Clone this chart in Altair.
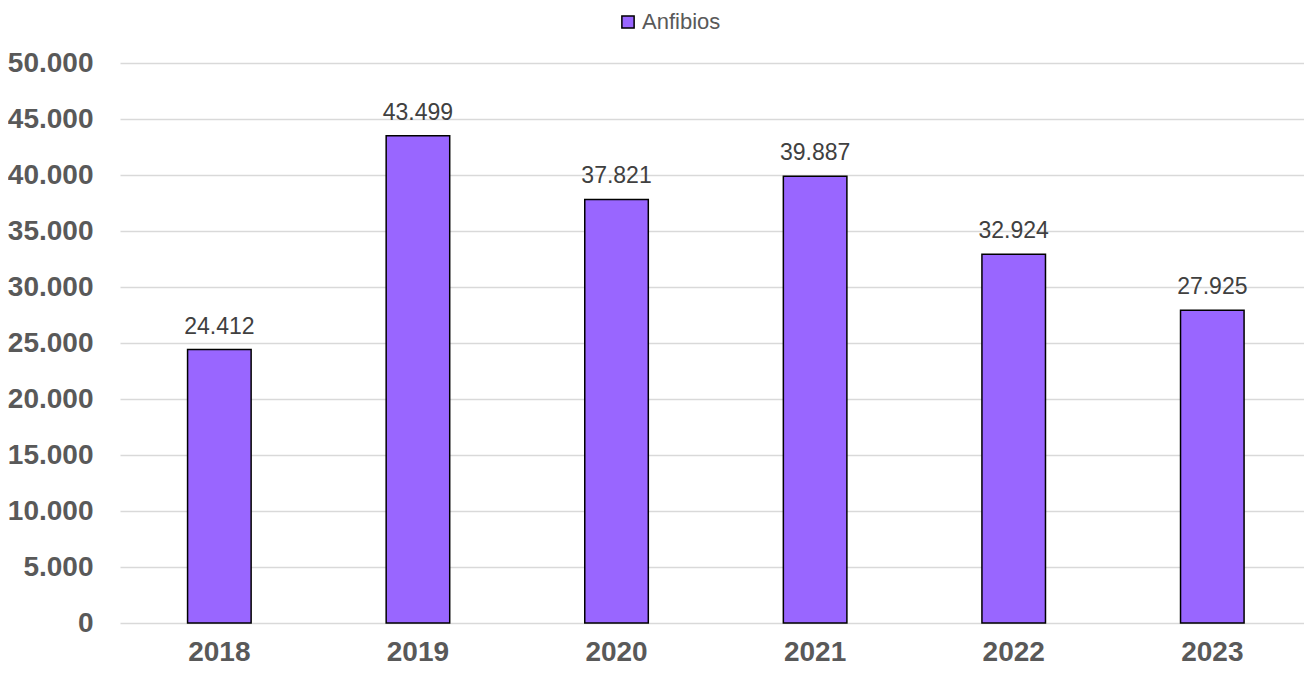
import altair as alt
import pandas as pd

years = ["2018", "2019", "2020", "2021", "2022", "2023"]
values = [24412, 43499, 37821, 39887, 32924, 27925]
series = "Anfibios"

df = pd.DataFrame({
    "year": years,
    "value": values,
    "label": [f"{v:,}".replace(",", ".") for v in values],
    "series": [series] * len(years),
})

FONT = "Liberation Sans"

x = alt.X("year:N", sort=years, title=None,
          scale=alt.Scale(paddingInner=0.68, paddingOuter=0.321, align=0.53),
          axis=alt.Axis(labelAngle=0, labelFontSize=28, labelFontWeight="bold",
                        labelColor="#595959", labelFont=FONT, ticks=False,
                        domain=False, labelPadding=15, grid=False))
y = alt.Y("value:Q", title=None,
          scale=alt.Scale(domain=[0, 50000], nice=False),
          axis=alt.Axis(values=list(range(0, 50001, 5000)),
                        labelExpr="replace(format(datum.value, ','), ',', '.')",
                        labelFontSize=28, labelFontWeight="bold", labelColor="#595959",
                        labelFont=FONT, ticks=False, domain=False, labelPadding=27,
                        gridColor="#d9d9d9", gridWidth=1.5))

bars = alt.Chart(df).mark_bar(stroke="black", strokeWidth=1.5).encode(
    x=x, y=y,
    color=alt.Color("series:N", title=None,
                    scale=alt.Scale(range=["#9966ff"]),
                    legend=alt.Legend(orient="none", legendX=497, legendY=-52,
                                      symbolType="square", symbolSize=150,
                                      symbolStrokeColor="black", symbolStrokeWidth=1.5,
                                      labelFontSize=22, labelFont=FONT,
                                      labelColor="#595959", labelOffset=3)),
)

text = alt.Chart(df).mark_text(baseline="alphabetic", dy=-16, fontSize=23,
                               font=FONT, color="#404040").encode(
    x=alt.X("year:N", sort=years),
    y="value:Q",
    text="label:N",
)

chart = (bars + text).properties(
    width=1184, height=560,
    autosize=alt.AutoSizeParams(type="none"),
    padding={"left": 112, "top": 55, "right": 0, "bottom": 47},
).configure_view(stroke=None)

chart.save("out.html", embed_options={"renderer": "svg", "actions": False})
